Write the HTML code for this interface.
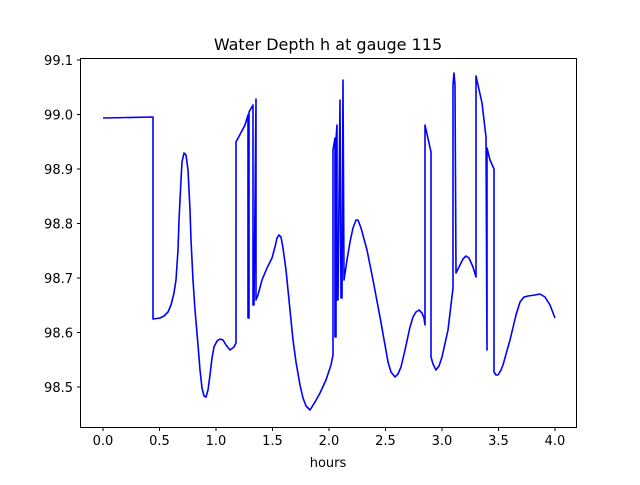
<!DOCTYPE html>
<html><head><style>body{margin:0;background:#fff}svg text{font-family:"DejaVu Sans",sans-serif;font-size:13px}</style></head><body>
<svg width="640" height="480" xmlns="http://www.w3.org/2000/svg">
<rect width="640" height="480" fill="#fff"/>
<text x="328" y="50" text-anchor="middle" style="font-size:16px">Water Depth h at gauge 115</text>
<polyline fill="none" stroke="#00f" stroke-width="1.6" stroke-linejoin="round" points="103,118 153,117 153,319 160,318 164,316 168,312 171,305 174,293 176,280 178,250 179,220 181,180 182,162 184,153 186,155 188,170 190,210 191,240 193,280 195,310 198,345 200,370 202,388 204,396 206,397 208,390 210,375 212,358 214,347 217,341 220,339 223,340 226,345 230,350 234,347 236,343 236,142 245,125 248,115 248,318 249,318 249,112 253,105 253,305 254,305 256,99 256,300 258,295 262,280 267,268 272,258 275,247 277,238 279,235 281,237 283,248 286,270 290,310 293,340 296,362 300,385 303,398 306,406 310,410 315,402 320,393 326,380 331,365 333,355 333,150 335,138 335,337 336,337 336,140 337,125 337,300 338,300 340,100 341,298 342,298 343,80 344,280 347,260 350,242 353,228 356,220 358,220 361,228 367,250 373,280 380,317 385,345 388,362 391,372 395,377 398,374 401,367 405,350 410,327 413,317 416,312 419,310 422,313 424,318 425,325 425,125 431,152 431,357 433,364 436,370 439,366 442,357 448,330 453,288 453,85 454,73 455,85 456,273 460,265 463,259 466,256 469,258 473,267 476,277 476,76 482,103 486,137 487,350 487,148 490,160 494,169 494,372 496,375 498,375 501,370 503,365 510,340 516,315 520,302 524,297 528,296 535,295 540,294 545,297 550,305 555,318"/>
<rect x="80.5" y="58.5" width="496" height="369" fill="none" stroke="#000" stroke-width="1"/>
<g stroke="#000">
<line x1="103" y1="428" x2="103" y2="431"/><line x1="159.5" y1="428" x2="159.5" y2="431"/><line x1="216" y1="428" x2="216" y2="431"/><line x1="272.5" y1="428" x2="272.5" y2="431"/><line x1="329" y1="428" x2="329" y2="431"/><line x1="385.5" y1="428" x2="385.5" y2="431"/><line x1="442" y1="428" x2="442" y2="431"/><line x1="498.5" y1="428" x2="498.5" y2="431"/><line x1="555" y1="428" x2="555" y2="431"/>
<line x1="77" y1="60" x2="80" y2="60"/><line x1="77" y1="114.5" x2="80" y2="114.5"/><line x1="77" y1="169" x2="80" y2="169"/><line x1="77" y1="223.5" x2="80" y2="223.5"/><line x1="77" y1="278" x2="80" y2="278"/><line x1="77" y1="332.5" x2="80" y2="332.5"/><line x1="77" y1="387" x2="80" y2="387"/>
</g>
<g text-anchor="middle">
<text x="103" y="445">0.0</text><text x="159.5" y="445">0.5</text><text x="216" y="445">1.0</text><text x="272.5" y="445">1.5</text><text x="329" y="445">2.0</text><text x="385.5" y="445">2.5</text><text x="442" y="445">3.0</text><text x="498.5" y="445">3.5</text><text x="555" y="445">4.0</text>
<text x="328" y="467">hours</text>
</g>
<g text-anchor="end">
<text x="73" y="65">99.1</text><text x="73" y="119.5">99.0</text><text x="73" y="174">98.9</text><text x="73" y="228.5">98.8</text><text x="73" y="283">98.7</text><text x="73" y="337.5">98.6</text><text x="73" y="392">98.5</text>
</g>
</svg>
</body></html>
